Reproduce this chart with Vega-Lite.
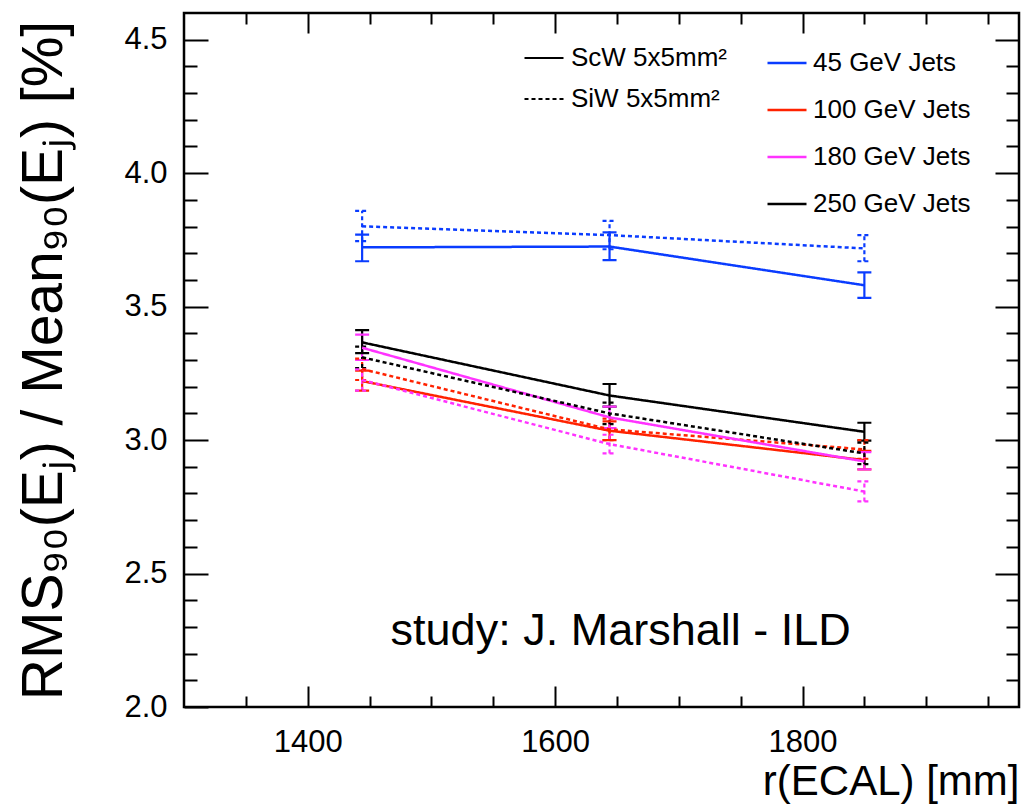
{
  "$schema": "https://vega.github.io/schema/vega-lite/v6.json",
  "width": 835,
  "height": 694,
  "autosize": {"type": "none"},
  "padding": {"left": 184, "top": 13, "right": 5, "bottom": 100},
  "background": "white",
  "config": {
    "font": "Liberation Sans",
    "view": {"stroke": "black", "strokeWidth": 2.5},
    "axis": {
      "grid": false,
      "domain": false,
      "tickColor": "black",
      "tickWidth": 2,
      "labelColor": "black",
      "titleColor": "black",
      "labelFont": "Liberation Sans",
      "titleFont": "Liberation Sans",
      "labelFontSize": 31,
      "titleFontWeight": "normal",
      "labelFlush": false,
      "labelOverlap": false
    }
  },
  "data": {
    "values": [
      {"r": 1444, "v": 3.722, "lo": 3.670, "hi": 3.770, "jets": "45 GeV Jets", "det": "ScW 5x5mm²"},
      {"r": 1644, "v": 3.725, "lo": 3.674, "hi": 3.778, "jets": "45 GeV Jets", "det": "ScW 5x5mm²"},
      {"r": 1850, "v": 3.580, "lo": 3.533, "hi": 3.628, "jets": "45 GeV Jets", "det": "ScW 5x5mm²"},
      {"r": 1444, "v": 3.801, "lo": 3.745, "hi": 3.859, "jets": "45 GeV Jets", "det": "SiW 5x5mm²"},
      {"r": 1644, "v": 3.768, "lo": 3.715, "hi": 3.821, "jets": "45 GeV Jets", "det": "SiW 5x5mm²"},
      {"r": 1850, "v": 3.718, "lo": 3.670, "hi": 3.768, "jets": "45 GeV Jets", "det": "SiW 5x5mm²"},
      {"r": 1444, "v": 3.221, "lo": 3.185, "hi": 3.260, "jets": "100 GeV Jets", "det": "ScW 5x5mm²"},
      {"r": 1644, "v": 3.035, "lo": 3.000, "hi": 3.070, "jets": "100 GeV Jets", "det": "ScW 5x5mm²"},
      {"r": 1850, "v": 2.925, "lo": 2.890, "hi": 2.960, "jets": "100 GeV Jets", "det": "ScW 5x5mm²"},
      {"r": 1444, "v": 3.266, "lo": 3.225, "hi": 3.305, "jets": "100 GeV Jets", "det": "SiW 5x5mm²"},
      {"r": 1644, "v": 3.040, "lo": 3.000, "hi": 3.080, "jets": "100 GeV Jets", "det": "SiW 5x5mm²"},
      {"r": 1850, "v": 2.965, "lo": 2.930, "hi": 3.000, "jets": "100 GeV Jets", "det": "SiW 5x5mm²"},
      {"r": 1444, "v": 3.346, "lo": 3.300, "hi": 3.395, "jets": "180 GeV Jets", "det": "ScW 5x5mm²"},
      {"r": 1644, "v": 3.085, "lo": 3.045, "hi": 3.125, "jets": "180 GeV Jets", "det": "ScW 5x5mm²"},
      {"r": 1850, "v": 2.920, "lo": 2.890, "hi": 2.955, "jets": "180 GeV Jets", "det": "ScW 5x5mm²"},
      {"r": 1444, "v": 3.225, "lo": 3.185, "hi": 3.265, "jets": "180 GeV Jets", "det": "SiW 5x5mm²"},
      {"r": 1644, "v": 2.985, "lo": 2.950, "hi": 3.020, "jets": "180 GeV Jets", "det": "SiW 5x5mm²"},
      {"r": 1850, "v": 2.807, "lo": 2.770, "hi": 2.845, "jets": "180 GeV Jets", "det": "SiW 5x5mm²"},
      {"r": 1444, "v": 3.366, "lo": 3.326, "hi": 3.412, "jets": "250 GeV Jets", "det": "ScW 5x5mm²"},
      {"r": 1644, "v": 3.167, "lo": 3.125, "hi": 3.210, "jets": "250 GeV Jets", "det": "ScW 5x5mm²"},
      {"r": 1850, "v": 3.031, "lo": 2.998, "hi": 3.065, "jets": "250 GeV Jets", "det": "ScW 5x5mm²"},
      {"r": 1444, "v": 3.310, "lo": 3.270, "hi": 3.350, "jets": "250 GeV Jets", "det": "SiW 5x5mm²"},
      {"r": 1644, "v": 3.100, "lo": 3.060, "hi": 3.140, "jets": "250 GeV Jets", "det": "SiW 5x5mm²"},
      {"r": 1850, "v": 2.950, "lo": 2.910, "hi": 2.990, "jets": "250 GeV Jets", "det": "SiW 5x5mm²"}
    ]
  },
  "resolve": {"axis": {"x": "independent", "y": "independent"}},
  "layer": [
    {
      "mark": {"type": "rule", "strokeWidth": 2.2},
      "encoding": {
        "x": {
          "field": "r", "type": "quantitative",
          "scale": {"domain": [1300, 1975], "nice": false, "zero": false},
          "axis": {
            "orient": "bottom",
            "values": [1350, 1400, 1450, 1500, 1550, 1600, 1650, 1700, 1750, 1800, 1850, 1900, 1950],
            "tickSize": {"expr": "datum.value % 200 == 0 ? -21 : -11"},
            "labelExpr": "datum.value % 200 == 0 ? datum.label : ''",
            "format": "d",
            "labelPadding": 41,
            "title": "r(ECAL) [mm]",
            "titleFontSize": 42,
            "titleAnchor": "end",
            "titleAlign": "right",
            "titlePadding": -6
          }
        },
        "y": {
          "field": "lo", "type": "quantitative",
          "scale": {"domain": [2.0, 4.6], "nice": false, "zero": false},
          "axis": {
            "orient": "left",
            "values": [2.0, 2.1, 2.2, 2.3, 2.4, 2.5, 2.6, 2.7, 2.8, 2.9, 3.0, 3.1, 3.2, 3.3, 3.4, 3.5, 3.6, 3.7, 3.8, 3.9, 4.0, 4.1, 4.2, 4.3, 4.4, 4.5],
            "tickSize": {"expr": "abs(datum.value*2 - round(datum.value*2)) < 0.01 ? -24 : -13"},
            "labelExpr": "abs(datum.value*2 - round(datum.value*2)) < 0.01 ? datum.label : ''",
            "format": ".1f",
            "labelPadding": 41,
            "title": "RMS₉₀(Eⱼ) / Mean₉₀(Eⱼ) [%]",
            "titleFontSize": 57,
            "titlePadding": 50
          }
        },
        "y2": {"field": "hi"},
        "color": {
          "field": "jets", "type": "nominal",
          "scale": {"domain": ["45 GeV Jets", "100 GeV Jets", "180 GeV Jets", "250 GeV Jets"], "range": ["#0a3cff", "#ff2200", "#ff33ff", "#000000"]},
          "legend": {
            "orient": "none", "legendX": 582, "legendY": 29, "title": null,
            "symbolType": "stroke", "symbolSize": 1521, "symbolStrokeWidth": 2.5,
            "labelFontSize": 26, "labelFont": "Liberation Sans", "labelColor": "black",
            "labelOffset": 5, "rowPadding": 13, "padding": 0, "labelLimit": 300
          }
        },
        "strokeDash": {
          "field": "det", "type": "nominal",
          "scale": {"domain": ["ScW 5x5mm²", "SiW 5x5mm²"], "range": [[1, 0], [4, 3]]},
          "legend": {
            "orient": "none", "legendX": 339, "legendY": 24, "title": null,
            "symbolType": "stroke", "symbolSize": 1521, "symbolStrokeWidth": 2.2, "symbolStrokeColor": "black",
            "labelFontSize": 26, "labelFont": "Liberation Sans", "labelColor": "black",
            "labelOffset": 6, "rowPadding": 7, "padding": 0, "labelLimit": 300
          }
        }
      }
    },
    {
      "mark": {"type": "point", "shape": "M-1,0H1", "size": 196, "filled": false, "strokeWidth": 2.2, "opacity": 1},
      "encoding": {
        "x": {
          "field": "r", "type": "quantitative",
          "axis": {
            "orient": "top",
            "values": [1350, 1400, 1450, 1500, 1550, 1600, 1650, 1700, 1750, 1800, 1850, 1900, 1950],
            "tickSize": {"expr": "datum.value % 200 == 0 ? -20 : -11"},
            "labels": false,
            "title": null
          }
        },
        "y": {
          "field": "lo", "type": "quantitative",
          "axis": {
            "orient": "right",
            "values": [2.1, 2.2, 2.3, 2.4, 2.5, 2.6, 2.7, 2.8, 2.9, 3.0, 3.1, 3.2, 3.3, 3.4, 3.5, 3.6, 3.7, 3.8, 3.9, 4.0, 4.1, 4.2, 4.3, 4.4, 4.5],
            "tickSize": {"expr": "abs(datum.value*2 - round(datum.value*2)) < 0.01 ? -24 : -13"},
            "labels": false,
            "title": null
          }
        },
        "color": {"field": "jets", "type": "nominal"},
        "strokeDash": {"field": "det", "type": "nominal"}
      }
    },
    {
      "mark": {"type": "point", "shape": "M-1,0H1", "size": 196, "filled": false, "strokeWidth": 2.2, "opacity": 1},
      "encoding": {
        "x": {"field": "r", "type": "quantitative", "axis": null},
        "y": {"field": "hi", "type": "quantitative", "axis": null},
        "color": {"field": "jets", "type": "nominal"},
        "strokeDash": {"field": "det", "type": "nominal"}
      }
    },
    {
      "mark": {"type": "line", "strokeWidth": 2.5},
      "encoding": {
        "x": {"field": "r", "type": "quantitative", "axis": null},
        "y": {"field": "v", "type": "quantitative", "axis": null},
        "color": {"field": "jets", "type": "nominal"},
        "strokeDash": {"field": "det", "type": "nominal"}
      }
    },
    {
      "data": {"values": [{"label": "study: J. Marshall - ILD"}]},
      "mark": {"type": "text", "align": "left", "baseline": "alphabetic", "fontSize": 45, "font": "Liberation Sans", "color": "black"},
      "encoding": {
        "x": {"datum": 1467, "type": "quantitative", "axis": null},
        "y": {"datum": 2.233, "type": "quantitative", "axis": null},
        "text": {"field": "label"}
      }
    }
  ]
}
